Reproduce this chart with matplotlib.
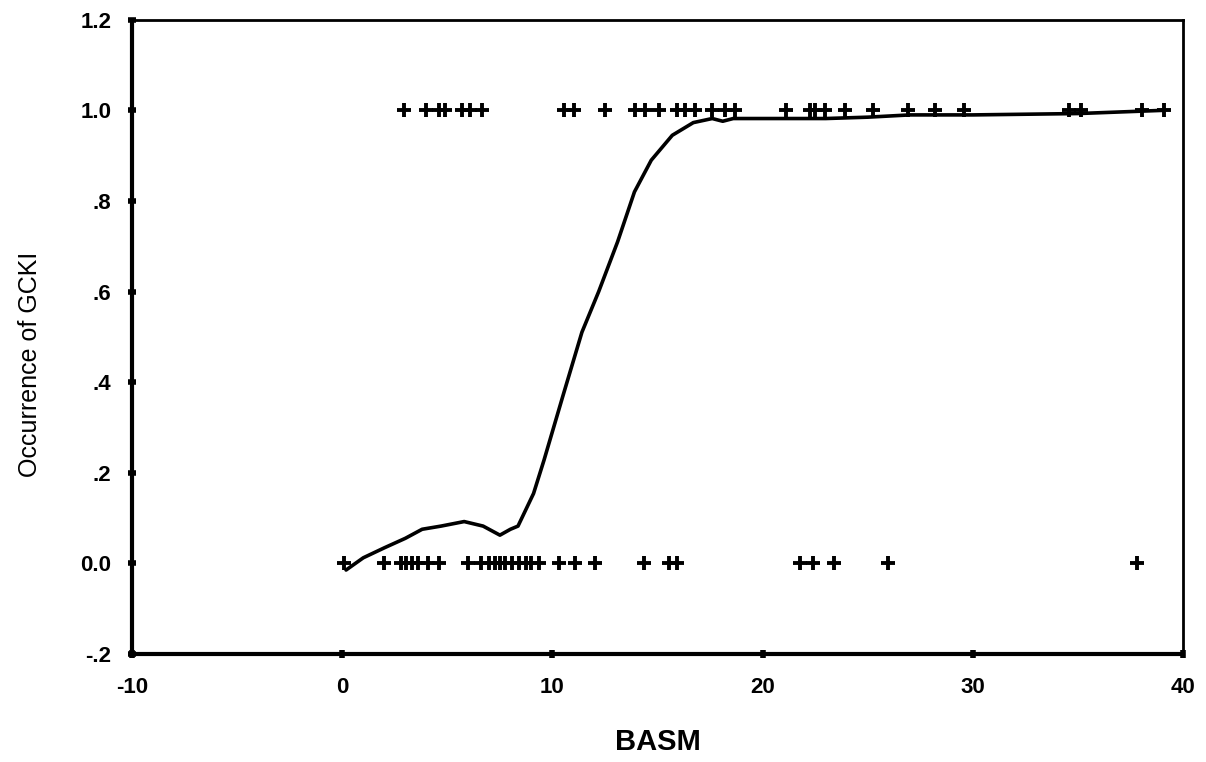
#!/usr/bin/env python3
import matplotlib
matplotlib.use("Agg")
import matplotlib.pyplot as plt

# observed cases: BASM values with GCKI present (1) / absent (0)
basm_present = [2.96, 4.0, 4.58, 4.87, 5.68, 6.06, 6.63, 10.55, 11.03,
                12.5, 13.94, 14.4, 15.08, 15.94, 16.3, 16.8, 17.6, 18.2, 18.7,
                21.1, 22.24, 22.5, 22.96, 23.9, 25.25, 26.9, 28.2, 29.6,
                34.56, 35.13, 38.04, 39.1]
basm_absent = [0.1, 2.0, 2.8, 3.05, 3.3, 3.6, 4.1, 4.6, 6.0, 6.6, 6.97,
               7.26, 7.5, 7.73, 8.07, 8.4, 8.75, 9.0, 9.36, 10.3, 11.07, 12.0,
               14.37, 15.56, 15.94, 21.77, 22.4, 23.4, 25.97, 37.8]

# smoothed fit line
fit_x = [0.18, 1.0, 2.0, 3.0, 3.8, 4.7, 5.8, 6.7, 7.5, 8.0, 8.36, 9.1, 9.6,
         10.5, 11.4, 12.2, 13.1, 13.9, 14.7, 15.7, 16.7, 17.6, 18.1, 18.6,
         20.0, 23.0, 25.0, 27.0, 30.0, 35.0, 39.0]
fit_y = [-0.015, 0.012, 0.034, 0.055, 0.075, 0.082, 0.092, 0.082, 0.062,
         0.075, 0.082, 0.154, 0.228, 0.37, 0.51, 0.60, 0.71, 0.82, 0.89,
         0.945, 0.973, 0.982, 0.976, 0.982, 0.982, 0.982, 0.985, 0.99, 0.99,
         0.993, 1.0]

xticks = [-10, 0, 10, 20, 30, 40]
yticks = [-0.2, 0.0, 0.2, 0.4, 0.6, 0.8, 1.0, 1.2]
ytick_labels = ['-.2', '0.0', '.2', '.4', '.6', '.8', '1.0', '1.2']

plt.rcParams['font.family'] = ['Liberation Sans', 'DejaVu Sans']

fig = plt.figure(figsize=(12.06, 7.62), dpi=100)
ax = fig.add_axes([0.1095, 0.142, 0.8715, 0.832])

ax.plot(fit_x, fit_y, color='black', lw=2.6, solid_capstyle='round')
ax.plot(basm_present, [1.0] * len(basm_present), '+', color='black',
        markersize=10, mew=2.8)
ax.plot(basm_absent, [0.0] * len(basm_absent), '+', color='black',
        markersize=10, mew=2.8)

ax.set_xlim(-10, 40)
ax.set_ylim(-0.2, 1.2)
ax.set_xticks(xticks)
ax.set_xticklabels([str(t) for t in xticks])
ax.set_yticks(yticks)
ax.set_yticklabels(ytick_labels)
ax.tick_params(direction='inout', length=6, width=4, labelsize=16)
ax.tick_params(axis='x', pad=14)
ax.tick_params(axis='y', pad=12)
for lab in ax.get_xticklabels() + ax.get_yticklabels():
    lab.set_fontweight('bold')

for side in ['left', 'bottom']:
    ax.spines[side].set_linewidth(3)
for side in ['top', 'right']:
    ax.spines[side].set_linewidth(2)

ax.set_xlabel('BASM', fontsize=21, fontweight='bold', va='center')
ax.xaxis.set_label_coords(0.5, -0.139)
ax.set_ylabel('Occurrence of GCKI', fontsize=18, va='center', ha='center')
ax.yaxis.set_label_coords(-0.097, 0.456)

fig.savefig('out.png', dpi=100)
